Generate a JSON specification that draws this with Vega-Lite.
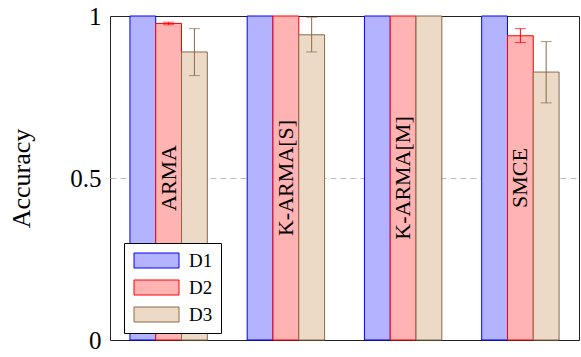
{
  "$schema": "https://vega.github.io/schema/vega-lite/v6.json",
  "width": 469,
  "height": 324,
  "autosize": {"type": "none"},
  "padding": {"left": 110, "top": 16, "right": 2, "bottom": 17},
  "config": {"view": {"stroke": "#222", "strokeWidth": 1}, "font": "Liberation Serif"},
  "data": {"values": [
    {"group": "ARMA", "series": "D1", "value": 1},
    {"group": "ARMA", "series": "D2", "value": 0.977, "lo": 0.973, "hi": 0.981},
    {"group": "ARMA", "series": "D3", "value": 0.889, "lo": 0.816, "hi": 0.961},
    {"group": "K-ARMA[S]", "series": "D1", "value": 1},
    {"group": "K-ARMA[S]", "series": "D2", "value": 1},
    {"group": "K-ARMA[S]", "series": "D3", "value": 0.942, "lo": 0.889, "hi": 0.996},
    {"group": "K-ARMA[M]", "series": "D1", "value": 1},
    {"group": "K-ARMA[M]", "series": "D2", "value": 1},
    {"group": "K-ARMA[M]", "series": "D3", "value": 1},
    {"group": "SMCE", "series": "D1", "value": 1},
    {"group": "SMCE", "series": "D2", "value": 0.939, "lo": 0.918, "hi": 0.961},
    {"group": "SMCE", "series": "D3", "value": 0.827, "lo": 0.732, "hi": 0.921}
  ]},
  "encoding": {
    "x": {"field": "group", "type": "nominal", "sort": ["ARMA", "K-ARMA[S]", "K-ARMA[M]", "SMCE"], "axis": null,
          "scale": {"paddingInner": 0.34, "paddingOuter": 0.17}}
  },
  "layer": [
    {
      "mark": {"type": "bar", "strokeWidth": 1},
      "encoding": {
        "xOffset": {"field": "series", "type": "nominal", "sort": ["D1", "D2", "D3"], "scale": {"paddingInner": 0, "paddingOuter": 0}},
        "y": {"field": "value", "type": "quantitative", "scale": {"domain": [0, 1], "nice": false, "zero": true},
              "axis": {"values": [0, 0.5, 1], "format": "~g", "title": "Accuracy", "titleFontSize": 26, "titleFont": "Liberation Serif",
                       "titleFontWeight": "normal", "titleColor": "#000", "titleAngle": 270, "titleX": -89, "titleY": 162,
                       "titleAlign": "center", "titleBaseline": "middle",
                       "labelFontSize": 25, "labelFont": "Liberation Serif", "labelColor": "#000", "labelPadding": 9,
                       "labelFlush": false, "ticks": false, "domain": false, "grid": true,
                       "gridColor": {"condition": {"test": "datum.value === 0.5", "value": "#bdbdbd"}, "value": "transparent"},
                       "gridDash": [6, 4], "gridWidth": 1}},
        "fill": {"field": "series", "type": "nominal",
                 "scale": {"domain": ["D1", "D2", "D3"], "range": ["#b3b3ff", "#ffb3b3", "#ecd9c6"]},
                 "legend": {"orient": "none", "legendX": 14, "legendY": 227, "title": null, "padding": 8,
                            "strokeColor": "#000", "fillColor": "#fff", "labelFontSize": 19, "labelFont": "Liberation Serif",
                            "labelColor": "#000", "symbolType": "M-1,-1H5V1H-1Z", "symbolSize": 225,
                            "symbolStrokeWidth": 1, "labelOffset": 38, "rowPadding": 7, "cornerRadius": 0}},
        "stroke": {"field": "series", "type": "nominal",
                   "scale": {"domain": ["D1", "D2", "D3"], "range": ["#0000ff", "#ff0000", "#8a6a4a"]}}
      }
    },
    {
      "mark": {"type": "rule", "strokeWidth": 1},
      "encoding": {
        "xOffset": {"field": "series", "type": "nominal", "sort": ["D1", "D2", "D3"]},
        "y": {"field": "lo", "type": "quantitative"},
        "y2": {"field": "hi"},
        "color": {"field": "series", "type": "nominal", "legend": null,
                  "scale": {"domain": ["D1", "D2", "D3"], "range": ["#0000ff", "#ff0000", "#8a6a4a"]}}
      }
    },
    {
      "mark": {"type": "tick", "size": 11, "thickness": 1},
      "encoding": {
        "xOffset": {"field": "series", "type": "nominal", "sort": ["D1", "D2", "D3"]},
        "y": {"field": "lo", "type": "quantitative"},
        "color": {"field": "series", "type": "nominal", "legend": null}
      }
    },
    {
      "mark": {"type": "tick", "size": 11, "thickness": 1},
      "encoding": {
        "xOffset": {"field": "series", "type": "nominal", "sort": ["D1", "D2", "D3"]},
        "y": {"field": "hi", "type": "quantitative"},
        "color": {"field": "series", "type": "nominal", "legend": null}
      }
    },
    {
      "transform": [{"filter": "datum.series === 'D1'"}],
      "mark": {"type": "text", "angle": 270, "fontSize": 22, "font": "Liberation Serif", "align": "center", "baseline": "middle", "color": "#000"},
      "encoding": {
        "y": {"datum": 0.5, "type": "quantitative"},
        "text": {"field": "group"}
      }
    }
  ]
}
